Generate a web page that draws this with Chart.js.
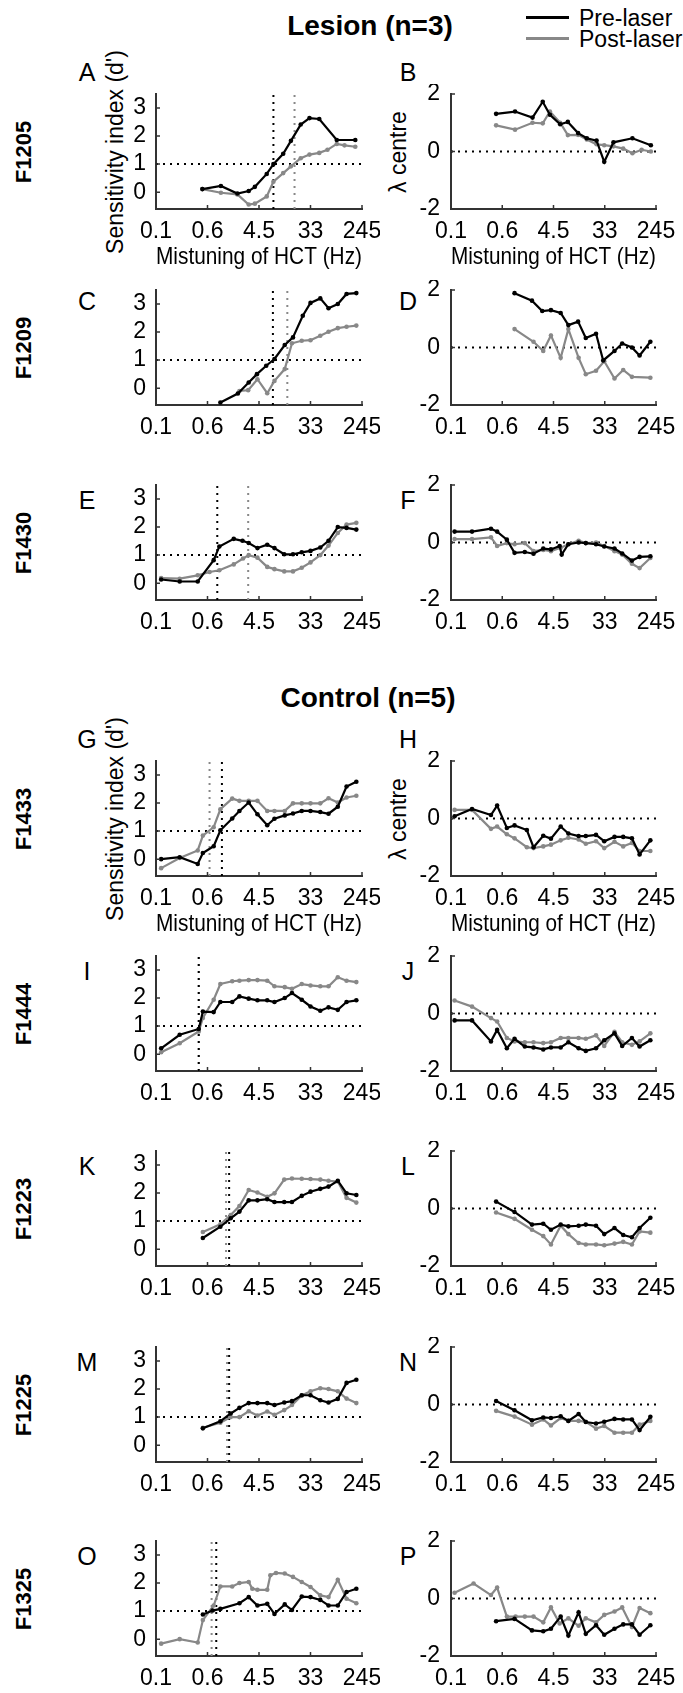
<!DOCTYPE html>
<html>
<head>
<meta charset="utf-8">
<script src="https://cdn.jsdelivr.net/npm/chart.js@4.4.1/dist/chart.umd.min.js"></script>
<style>
  body { margin: 0; background: #fff; width: 683px; height: 1693px; position: relative; overflow: hidden;
         font-family: "Liberation Sans", Arial, sans-serif; color: #000; }
  .t { position: absolute; white-space: nowrap; transform: translate(-50%, -50%); line-height: 1; }
  .grp { font-weight: bold; font-size: 28px; }
  .let { font-size: 25px; }
  .row { font-weight: bold; font-size: 22px; transform: translate(-50%, -50%) rotate(-90deg); }
  .ylab { font-size: 23px; transform: translate(-50%, -50%) rotate(-90deg); }
  .leg { position: absolute; height: 2.5px; width: 43px; left: 526px; }
  canvas { position: absolute; }
</style>
</head>
<body>
<div class="t grp" style="left:370px;top:26px">Lesion (n=3)</div>
<div class="t grp" style="left:368px;top:698px">Control (n=5)</div>
<div class="leg" style="top:16px;background:#000"></div>
<div class="leg" style="top:37px;background:#888"></div>
<div class="t" style="left:579px;top:18px;transform:translate(0,-50%);font-size:23px">Pre-laser</div>
<div class="t" style="left:579px;top:39px;transform:translate(0,-50%);font-size:23px">Post-laser</div>

<script>
// x positions are in axis steps: 0 = 0.1 Hz, 1 = 0.6, 2 = 4.5, 3 = 33, 4 = 245 Hz
const xTickLabels = ['0.1', '0.6', '4.5', '33', '245'];
const dprimeTicks = [0, 1, 2, 3];
const lambdaTicks = [-2, 0, 2];
const animals = ['F1205', 'F1209', 'F1430', 'F1433', 'F1444', 'F1223', 'F1225', 'F1325'];

// lesion
const A_pre  = [[0.90,0.11],[1.26,0.22],[1.58,-0.05],[1.80,0.04],[1.92,0.19],[2.15,0.65],[2.28,1.0],[2.47,1.37],[2.62,1.83],[2.81,2.41],[2.98,2.64],[3.17,2.61],[3.51,1.86],[3.87,1.86]];
const A_post = [[0.90,0.11],[1.26,-0.02],[1.58,-0.08],[1.80,-0.44],[1.92,-0.41],[2.15,-0.15],[2.28,0.37],[2.47,0.68],[2.62,0.92],[2.81,1.21],[2.98,1.34],[3.17,1.40],[3.33,1.51],[3.51,1.72],[3.66,1.67],[3.87,1.62]];
const A_thr  = [2.28, 2.69];
const B_pre  = [[0.88,1.31],[1.25,1.39],[1.59,1.18],[1.79,1.73],[1.93,1.28],[2.13,0.95],[2.28,1.03],[2.48,0.64],[2.65,0.46],[2.84,0.38],[2.99,-0.36],[3.17,0.32],[3.54,0.46],[3.90,0.22]];
const B_post = [[0.88,0.91],[1.25,0.76],[1.59,1.0],[1.79,0.98],[1.93,1.39],[2.13,1.0],[2.28,0.57],[2.48,0.58],[2.65,0.42],[2.84,0.25],[2.99,0.22],[3.17,0.18],[3.36,0.1],[3.54,-0.06],[3.72,0.06],[3.90,0.0]];
const C_pre  = [[1.25,-0.51],[1.59,-0.19],[1.80,0.2],[1.96,0.5],[2.14,0.8],[2.30,1.04],[2.50,1.54],[2.66,1.81],[2.85,2.58],[3.0,3.04],[3.19,3.2],[3.35,2.85],[3.53,3.0],[3.70,3.36],[3.89,3.39]];
const C_post = [[1.62,-0.1],[1.79,-0.07],[1.97,0.32],[2.16,-0.18],[2.30,0.26],[2.50,0.68],[2.64,1.6],[2.83,1.69],[3.0,1.71],[3.19,1.87],[3.35,2.01],[3.53,2.14],[3.70,2.19],[3.89,2.23]];
const C_thr  = [2.27, 2.55];
const D_pre  = [[1.24,1.89],[1.58,1.63],[1.78,1.27],[1.95,1.30],[2.14,1.2],[2.29,0.78],[2.48,0.9],[2.63,0.33],[2.83,0.48],[2.97,-0.45],[3.19,-0.12],[3.34,0.14],[3.53,0.0],[3.68,-0.28],[3.89,0.2]];
const D_post = [[1.24,0.64],[1.61,0.2],[1.80,-0.12],[1.95,0.42],[2.14,-0.36],[2.29,0.64],[2.49,-0.36],[2.63,-0.93],[2.83,-0.81],[2.99,-0.48],[3.19,-1.08],[3.36,-0.78],[3.53,-1.02],[3.89,-1.05]];
const E_pre  = [[0.10,0.13],[0.46,0.06],[0.81,0.06],[1.12,0.82],[1.23,1.31],[1.51,1.58],[1.68,1.51],[1.80,1.43],[1.97,1.25],[2.16,1.37],[2.30,1.25],[2.49,1.03],[2.66,1.03],[2.83,1.1],[3.0,1.15],[3.19,1.27],[3.35,1.51],[3.53,2.0],[3.70,1.97],[3.89,1.91]];
const E_post = [[0.10,0.18],[0.46,0.16],[0.81,0.28],[1.04,0.4],[1.23,0.46],[1.51,0.67],[1.69,0.88],[1.80,1.0],[1.97,0.91],[2.16,0.58],[2.30,0.5],[2.49,0.42],[2.66,0.42],[2.83,0.55],[3.0,0.74],[3.19,1.0],[3.35,1.34],[3.53,1.79],[3.70,2.09],[3.89,2.15]];
const E_thr  = [1.19, 1.79];
const F_pre  = [[0.07,0.38],[0.41,0.38],[0.78,0.48],[0.90,0.38],[1.09,0.1],[1.24,-0.36],[1.44,-0.33],[1.61,-0.39],[1.80,-0.21],[1.95,-0.24],[2.12,-0.12],[2.16,-0.42],[2.29,-0.06],[2.49,0.0],[2.63,-0.02],[2.83,-0.06],[2.99,-0.14],[3.19,-0.21],[3.34,-0.38],[3.53,-0.63],[3.68,-0.5],[3.89,-0.48]];
const F_post = [[0.07,0.12],[0.41,0.12],[0.78,0.18],[0.90,-0.12],[1.09,-0.02],[1.24,-0.06],[1.44,-0.02],[1.61,-0.3],[1.80,-0.26],[1.95,-0.3],[2.14,-0.18],[2.29,-0.06],[2.49,0.06],[2.63,-0.02],[2.83,0.0],[2.99,-0.12],[3.19,-0.3],[3.34,-0.42],[3.53,-0.74],[3.68,-0.89],[3.89,-0.54]];

// control
const G_pre  = [[0.10,0.0],[0.46,0.07],[0.81,-0.17],[0.91,0.22],[1.12,0.46],[1.25,1.03],[1.48,1.45],[1.62,1.72],[1.80,2.02],[1.97,1.6],[2.16,1.21],[2.30,1.44],[2.50,1.56],[2.66,1.63],[2.83,1.72],[3.0,1.72],[3.19,1.68],[3.35,1.62],[3.53,1.87],[3.70,2.59],[3.89,2.76]];
const G_post = [[0.10,-0.32],[0.46,0.04],[0.81,0.31],[0.91,0.84],[1.12,1.14],[1.25,1.78],[1.48,2.16],[1.62,2.08],[1.80,2.08],[1.97,2.08],[2.16,1.72],[2.30,1.72],[2.50,1.72],[2.66,1.99],[2.83,1.99],[3.0,1.99],[3.19,1.99],[3.35,2.17],[3.53,2.02],[3.70,2.2],[3.89,2.26]];
const G_thr  = [1.28, 1.04];
const H_pre  = [[0.07,0.08],[0.41,0.33],[0.78,0.12],[0.90,0.45],[1.09,-0.33],[1.24,-0.24],[1.48,-0.4],[1.61,-1.0],[1.80,-0.6],[1.95,-0.7],[2.14,-0.28],[2.29,-0.52],[2.49,-0.61],[2.63,-0.61],[2.83,-0.57],[2.99,-0.79],[3.19,-0.64],[3.36,-0.64],[3.53,-0.69],[3.68,-1.25],[3.89,-0.76]];
const H_post = [[0.07,0.3],[0.41,0.3],[0.78,-0.36],[0.90,-0.28],[1.09,-0.55],[1.24,-0.69],[1.48,-1.0],[1.61,-1.03],[1.80,-0.97],[1.95,-0.91],[2.14,-0.76],[2.29,-0.67],[2.49,-0.73],[2.63,-0.88],[2.83,-0.79],[2.99,-1.03],[3.19,-0.81],[3.36,-0.97],[3.53,-0.85],[3.68,-1.13],[3.89,-1.13]];
const I_pre  = [[0.10,0.21],[0.46,0.69],[0.83,0.9],[0.91,1.52],[1.12,1.5],[1.25,1.86],[1.48,1.86],[1.62,2.06],[1.80,1.98],[1.97,1.92],[2.16,1.92],[2.30,1.86],[2.50,2.0],[2.64,2.18],[2.83,1.94],[3.0,1.7],[3.19,1.55],[3.35,1.67],[3.53,1.58],[3.70,1.86],[3.89,1.92]];
const I_post = [[0.10,0.07],[0.46,0.39],[0.83,0.81],[0.91,1.29],[1.12,1.94],[1.25,2.5],[1.48,2.6],[1.62,2.62],[1.80,2.64],[1.97,2.64],[2.16,2.62],[2.30,2.42],[2.50,2.39],[2.64,2.33],[2.83,2.5],[3.0,2.45],[3.19,2.42],[3.35,2.42],[3.53,2.74],[3.70,2.62],[3.89,2.57]];
const I_thr  = [0.83, 0.83];
const J_pre  = [[0.07,-0.24],[0.41,-0.24],[0.78,-0.97],[0.90,-0.57],[1.09,-1.21],[1.24,-0.88],[1.44,-1.15],[1.61,-1.18],[1.80,-1.25],[1.95,-1.18],[2.14,-1.18],[2.29,-1.0],[2.49,-1.21],[2.63,-1.3],[2.83,-1.21],[2.99,-0.93],[3.19,-0.69],[3.34,-1.13],[3.53,-0.85],[3.68,-1.15],[3.89,-0.93]];
const J_post = [[0.07,0.45],[0.41,0.24],[0.78,-0.16],[0.90,-0.28],[1.09,-0.85],[1.24,-0.97],[1.44,-1.0],[1.61,-1.0],[1.80,-1.03],[1.95,-1.0],[2.14,-0.85],[2.29,-0.85],[2.49,-0.85],[2.63,-0.88],[2.83,-0.76],[2.99,-1.13],[3.19,-0.64],[3.34,-1.0],[3.53,-1.09],[3.68,-0.97],[3.89,-0.69]];
const K_pre  = [[0.91,0.4],[1.25,0.8],[1.45,1.1],[1.62,1.34],[1.80,1.74],[1.97,1.74],[2.16,1.78],[2.30,1.68],[2.49,1.68],[2.64,1.68],[2.83,1.9],[3.0,2.05],[3.19,2.15],[3.35,2.23],[3.53,2.44],[3.70,1.99],[3.89,1.93]];
const K_post = [[0.91,0.61],[1.25,0.89],[1.45,1.22],[1.62,1.54],[1.80,2.11],[1.97,2.02],[2.16,1.87],[2.30,1.99],[2.49,2.48],[2.64,2.52],[2.83,2.51],[3.0,2.5],[3.19,2.48],[3.35,2.44],[3.53,2.41],[3.70,1.83],[3.89,1.66]];
const K_thr  = [1.42, 1.36];
const L_pre  = [[0.88,0.24],[1.24,-0.12],[1.58,-0.56],[1.80,-0.53],[1.95,-0.74],[2.14,-0.56],[2.29,-0.62],[2.49,-0.6],[2.63,-0.56],[2.83,-0.6],[2.99,-0.89],[3.19,-0.68],[3.36,-0.92],[3.53,-1.0],[3.68,-0.68],[3.89,-0.32]];
const L_post = [[0.88,-0.14],[1.24,-0.36],[1.58,-0.74],[1.80,-0.96],[1.95,-1.25],[2.14,-0.6],[2.29,-0.89],[2.49,-1.2],[2.63,-1.25],[2.83,-1.25],[2.99,-1.28],[3.19,-1.22],[3.36,-1.16],[3.53,-1.25],[3.68,-0.8],[3.89,-0.84]];
const M_pre  = [[0.91,0.6],[1.25,0.85],[1.45,1.13],[1.62,1.33],[1.80,1.5],[1.97,1.5],[2.16,1.5],[2.30,1.43],[2.49,1.52],[2.64,1.57],[2.83,1.78],[3.0,1.78],[3.19,1.6],[3.35,1.52],[3.53,1.65],[3.70,2.22],[3.89,2.33]];
const M_post = [[0.91,0.62],[1.25,0.8],[1.45,1.0],[1.62,1.0],[1.80,1.21],[1.97,1.06],[2.16,1.2],[2.30,1.08],[2.49,1.25],[2.64,1.43],[2.83,1.77],[3.0,1.92],[3.19,2.03],[3.35,2.0],[3.53,1.92],[3.70,1.66],[3.89,1.5]];
const M_thr  = [1.42, 1.38];
const N_pre  = [[0.88,0.12],[1.24,-0.2],[1.58,-0.55],[1.80,-0.45],[1.95,-0.47],[2.14,-0.41],[2.29,-0.57],[2.49,-0.33],[2.63,-0.61],[2.83,-0.66],[2.99,-0.6],[3.19,-0.5],[3.36,-0.52],[3.53,-0.52],[3.68,-0.89],[3.89,-0.43]];
const N_post = [[0.88,-0.22],[1.24,-0.42],[1.58,-0.7],[1.80,-0.52],[1.95,-0.73],[2.14,-0.47],[2.29,-0.57],[2.49,-0.57],[2.63,-0.6],[2.83,-0.84],[2.99,-0.75],[3.19,-0.98],[3.36,-0.98],[3.53,-0.98],[3.68,-0.7],[3.89,-0.57]];
const O_pre  = [[0.91,0.88],[1.10,1.02],[1.25,1.08],[1.62,1.28],[1.80,1.5],[1.97,1.2],[2.16,1.26],[2.30,0.9],[2.50,1.24],[2.64,1.04],[2.83,1.52],[3.0,1.5],[3.19,1.4],[3.35,1.2],[3.53,1.2],[3.70,1.68],[3.89,1.8]];
const O_post = [[0.10,-0.16],[0.46,0.0],[0.81,-0.12],[0.91,0.68],[1.12,1.2],[1.25,1.88],[1.48,1.88],[1.62,2.0],[1.80,2.04],[1.87,1.8],[1.97,1.76],[2.16,1.76],[2.22,2.28],[2.33,2.36],[2.50,2.34],[2.66,2.22],[2.83,2.04],[3.0,1.86],[3.19,1.56],[3.35,1.5],[3.53,2.12],[3.70,1.44],[3.89,1.28]];
const O_thr  = [1.17, 1.08];
const P_pre  = [[0.88,-0.79],[1.24,-0.71],[1.58,-1.11],[1.80,-1.14],[1.95,-1.05],[2.14,-0.63],[2.29,-1.29],[2.49,-0.48],[2.63,-1.23],[2.83,-0.93],[2.99,-1.26],[3.19,-1.05],[3.36,-0.9],[3.53,-0.9],[3.68,-1.26],[3.89,-0.93]];
const P_post = [[0.07,0.2],[0.44,0.52],[0.78,0.12],[0.90,0.38],[1.09,-0.63],[1.26,-0.63],[1.44,-0.63],[1.61,-0.63],[1.80,-0.83],[1.95,-0.31],[2.12,-0.87],[2.29,-0.69],[2.49,-0.95],[2.63,-0.69],[2.83,-0.83],[2.99,-0.57],[3.19,-0.45],[3.34,-0.31],[3.53,-0.99],[3.68,-0.33],[3.89,-0.51]];

const panels = [
  ['A', A_pre, A_post, A_thr], ['B', B_pre, B_post],
  ['C', C_pre, C_post, C_thr], ['D', D_pre, D_post],
  ['E', E_pre, E_post, E_thr], ['F', F_pre, F_post],
  ['G', G_pre, G_post, G_thr], ['H', H_pre, H_post],
  ['I', I_pre, I_post, I_thr], ['J', J_pre, J_post],
  ['K', K_pre, K_post, K_thr], ['L', L_pre, L_post],
  ['M', M_pre, M_post, M_thr], ['N', N_pre, N_post],
  ['O', O_pre, O_post, O_thr], ['P', P_pre, P_post]
];

const rowTop = [94, 290, 485, 761, 956, 1151, 1347, 1541];
const axH = 115;
const PRE = '#000', POST = '#888', AXIS = '#333';

Chart.defaults.font.family = '"Liberation Sans", Arial, sans-serif';
Chart.defaults.font.size = 23;
Chart.defaults.color = '#000';

// MATLAB style ticks pointing into the axes
const inTicks = {
  id: 'inTicks',
  afterDraw(chart) {
    const {ctx, chartArea: a, scales: {x, y}} = chart;
    ctx.save();
    ctx.strokeStyle = AXIS;
    ctx.lineWidth = 1.5;
    ctx.beginPath();
    x.ticks.forEach(t => {
      if (t.value <= 0) return;
      const px = x.getPixelForValue(t.value);
      ctx.moveTo(px, a.bottom); ctx.lineTo(px, a.bottom - 4);
    });
    y.ticks.forEach(t => {
      const py = y.getPixelForValue(t.value);
      ctx.moveTo(a.left, py); ctx.lineTo(a.left + 4, py);
    });
    ctx.stroke();
    ctx.restore();
  }
};

const pts = arr => arr.map(([x, y]) => ({x, y}));

function addText(txt, cls, x, y) {
  const d = document.createElement('div');
  d.className = 't ' + cls;
  d.style.left = x + 'px';
  d.style.top = y + 'px';
  d.textContent = txt;
  document.body.appendChild(d);
}

animals.forEach((name, r) => addText(name, 'row', 24, rowTop[r] + axH / 2));

panels.forEach(([id, pre, post, thr], i) => {
  const r = Math.floor(i / 2), left = i % 2 === 0;
  const top = rowTop[r];
  const labelled = r === 0 || r === 3;
  const ymin = left ? -0.6 : -2, ymax = left ? 3.5 : 2;
  const ref = left ? 1 : 0;

  addText(id, 'let', left ? 87 : 408, labelled ? top - 22 : top + (r === 1 ? 11 : 15));
  if (labelled) {
    addText(left ? "Sensitivity index (d')" : 'λ centre', 'ylab', left ? 115 : 398, top + axH / 2);
  }

  const cvLeft = left ? 90 : 380, cvW = left ? 290 : 303;
  const yW = left ? 66 : 71, padR = left ? 18 : 27;
  const xH = labelled ? 70 : 40;
  const cv = document.createElement('canvas');
  cv.width = cvW; cv.height = 10 + axH + xH;
  cv.style.left = cvLeft + 'px';
  cv.style.top = (top - 10) + 'px';
  document.body.appendChild(cv);

  const dot = {borderDash: [2, 5], borderWidth: 2, pointRadius: 0, fill: false};
  const datasets = [
    {...dot, data: [{x: 0, y: ref}, {x: 4, y: ref}], borderColor: '#000', order: 4}
  ];
  if (thr) {
    datasets.push({...dot, data: [{x: thr[1], y: ymin}, {x: thr[1], y: ymax}], borderColor: POST, order: 3});
    datasets.push({...dot, data: [{x: thr[0], y: ymin}, {x: thr[0], y: ymax}], borderColor: PRE, order: 2});
  }
  datasets.push({data: pts(post), borderColor: POST, backgroundColor: POST, borderWidth: 2.2,
                 pointRadius: 2.3, pointBorderWidth: 0, order: 1});
  datasets.push({data: pts(pre), borderColor: PRE, backgroundColor: PRE, borderWidth: 2.2,
                 pointRadius: 2.3, pointBorderWidth: 0, order: 0});

  new Chart(cv, {
    type: 'line',
    data: {datasets},
    plugins: [inTicks],
    options: {
      responsive: false,
      animation: false,
      layout: {padding: {top: 10, right: padR, left: 0, bottom: 0}},
      plugins: {legend: {display: false}, tooltip: {enabled: false}},
      elements: {line: {tension: 0}},
      scales: {
        x: {
          type: 'linear', min: 0, max: 4,
          grid: {display: false, drawTicks: false},
          border: {display: true, color: AXIS, width: 2},
          afterBuildTicks: s => { s.ticks = xTickLabels.map((_, k) => ({value: k})); },
          afterFit: s => { s.height = xH; s.paddingLeft = 0; s.paddingRight = 0; },
          ticks: {padding: 9, maxRotation: 0, autoSkip: false, callback: v => xTickLabels[v]},
          title: {display: labelled, text: 'Mistuning of HCT (Hz)', font: {size: 24},
                  padding: {top: 0, bottom: 7}}
        },
        y: {
          min: ymin, max: ymax,
          grid: {display: false, drawTicks: false},
          border: {display: true, color: AXIS, width: 2},
          afterBuildTicks: s => { s.ticks = (left ? dprimeTicks : lambdaTicks).map(v => ({value: v})); },
          afterFit: s => { s.width = yW; s.paddingTop = 0; s.paddingBottom = 0; },
          ticks: {padding: left ? 10 : 11, callback: v => String(v)}
        }
      }
    }
  });
});
</script>
</body>
</html>
